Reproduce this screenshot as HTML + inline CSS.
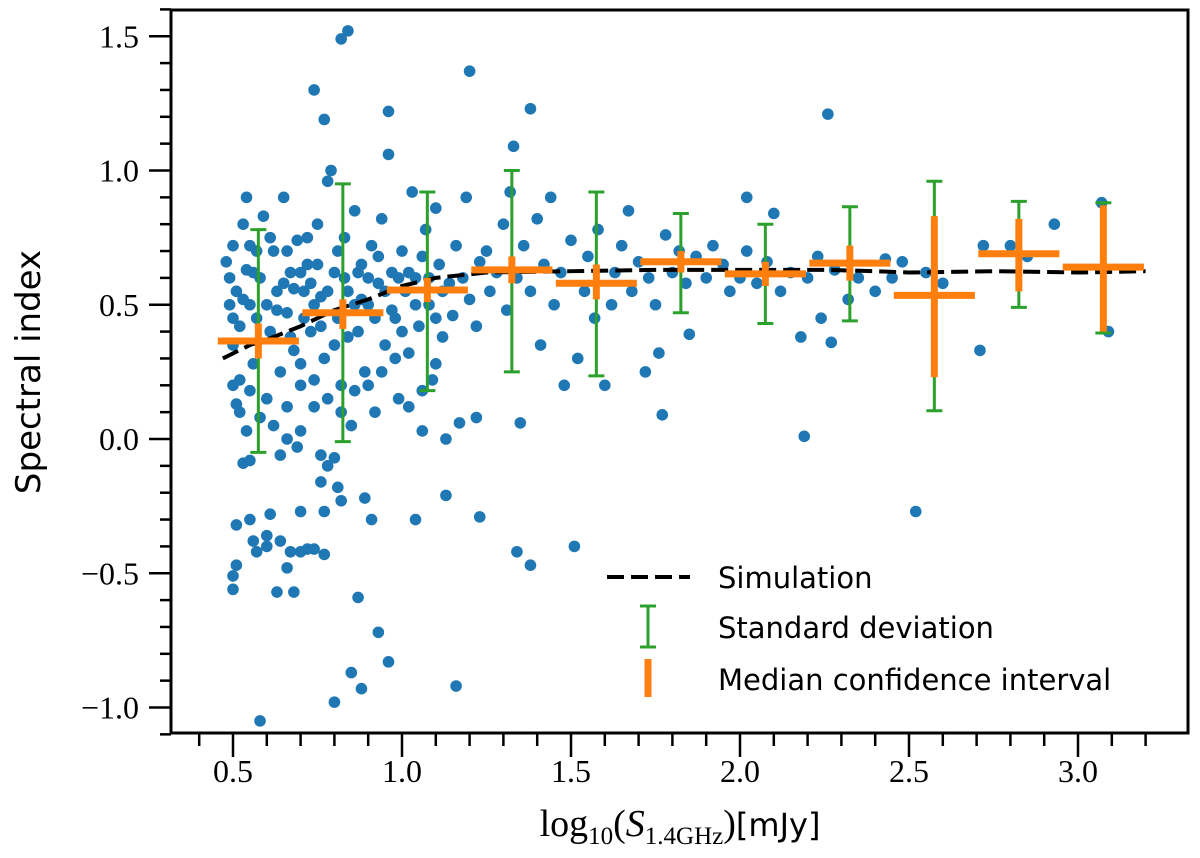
<!DOCTYPE html>
<html><head><meta charset="utf-8"><style>
html,body{margin:0;padding:0;background:#fff}
svg{display:block}
.tl{font-family:"Liberation Serif",serif;font-size:32px;fill:#000}
.lg{font-family:"DejaVu Sans","Liberation Sans",sans-serif;font-size:29px;fill:#000}
</style></head><body>
<svg id="chart" width="1200" height="858" viewBox="0 0 1200 858" xmlns="http://www.w3.org/2000/svg">
<g id="marks"></g>
<rect x="171" y="10" width="1017" height="723" fill="none" stroke="#000" stroke-width="3"/>
<g id="axes"></g>
<text class="lg" transform="translate(40,372) rotate(-90)" text-anchor="middle" style="font-size:34px">Spectral index</text>
<text x="680" y="836" text-anchor="middle" style="font-size:38px"><tspan font-family="Liberation Serif, serif">log</tspan><tspan font-family="Liberation Serif, serif" font-size="25" dy="8">10</tspan><tspan font-family="Liberation Serif, serif" dy="-8">(</tspan><tspan font-family="Liberation Serif, serif" font-style="italic">S</tspan><tspan font-family="Liberation Serif, serif" font-size="25" dy="8">1.4GHz</tspan><tspan font-family="Liberation Serif, serif" dy="-8">)</tspan><tspan font-family="DejaVu Sans, sans-serif" font-size="32">[mJy]</tspan></text>
<g>
<line x1="607" y1="577" x2="690" y2="577" stroke="#000" stroke-width="4" stroke-dasharray="17,7"/>
<text class="lg" x="718" y="588">Simulation</text>
<g stroke="#2ca02c" stroke-width="3"><line x1="648" y1="606" x2="648" y2="647"/><line x1="640" y1="606" x2="656" y2="606"/><line x1="640" y1="647" x2="656" y2="647"/></g>
<text class="lg" x="718" y="638">Standard deviation</text>
<line x1="648" y1="659" x2="648" y2="697" stroke="#ff7f0e" stroke-width="7"/>
<text class="lg" x="718" y="690">Median confidence interval</text>
</g>
</svg>
<script>
const pts = [[0.58,-1.05],[0.82,1.49],[0.84,1.52],[0.85,-0.87],[0.87,-0.59],[0.88,-0.93],[0.8,-0.98],[0.93,-0.72],[0.96,-0.83],[1.16,-0.92],[1.2,1.37],[2.26,1.21],[2.52,-0.27],[2.19,0.01],[2.71,0.33],[3.07,0.88],[3.09,0.40],[2.93,0.8],[2.24,0.45],[2.27,0.36],[1.38,1.23],[1.33,1.09],[0.74,1.3],[0.77,1.19],[0.96,1.22],[1.77,0.09],[1.51,-0.4],[1.34,-0.42],[1.38,-0.47],[1.22,0.08],[1.23,-0.29],[1.13,-0.21],[1.04,-0.3],[0.91,-0.3],[0.89,-0.22],[0.5,-0.51],[0.51,-0.47],[0.5,-0.56],[0.51,-0.32],[0.6,-0.4],[0.61,-0.28],[0.63,-0.57],[0.68,-0.57],[0.66,-0.48],[0.67,-0.42],[0.7,-0.42],[0.72,-0.41],[0.74,-0.41],[0.77,-0.43],[0.77,-0.27],[0.76,-0.16],[0.78,-0.1],[0.81,-0.18],[0.82,-0.23],[0.55,-0.3],[0.56,-0.38],[0.57,-0.42],[0.6,-0.36],[0.64,-0.38],[0.7,-0.27],[0.76,-0.06],[0.8,-0.07],[0.53,-0.09],[0.55,-0.08],[0.64,-0.06],[0.66,0.0],[0.69,-0.03],[0.7,0.03],[0.5,0.2],[0.52,0.1],[0.54,0.03],
[0.48,0.66],[0.49,0.6],[0.5,0.72],[0.51,0.55],[0.52,0.42],[0.5,0.35],[0.53,0.8],[0.54,0.63],[0.55,0.5],[0.56,0.28],[0.52,0.22],[0.51,0.13],[0.54,0.9],[0.55,0.72],[0.57,0.45],[0.58,0.6],[0.59,0.83],[0.6,0.15],[0.61,0.4],[0.62,0.7],[0.63,0.55],[0.64,0.25],[0.65,0.9],[0.66,0.47],[0.67,0.62],[0.68,0.33],[0.69,0.74],[0.7,0.2],[0.71,0.55],[0.72,0.65],[0.73,0.4],[0.74,0.12],[0.75,0.8],[0.76,0.53],[0.77,0.3],[0.78,0.96],[0.79,1.0],[0.8,0.62],[0.81,0.45],[0.82,0.2],[0.83,0.75],[0.84,0.55],[0.85,0.05],[0.86,0.85],[0.87,0.4],[0.88,0.65],[0.89,0.25],[0.9,0.5],[0.91,0.72],[0.92,0.1],[0.93,0.58],[0.94,0.82],[0.95,0.35],[0.96,1.06],[0.97,0.62],[0.98,0.45],[0.99,0.15],[1.0,0.7],[1.01,0.55],[1.02,0.32],[1.03,0.92],[1.04,0.6],[1.05,0.42],[1.06,0.03],[1.07,0.78],[1.08,0.5],[1.09,0.22],[1.1,0.86],[1.11,0.65],[1.12,0.38],[1.13,0.0],[1.14,0.58],[1.15,0.46],[1.16,0.72],[1.17,0.06],[1.18,0.6],[1.19,0.9],[1.2,0.52],[1.22,0.42],[1.23,0.66],[1.25,0.7],[1.26,0.55],[1.28,0.62],[1.3,0.8],[1.31,0.48],[1.32,0.92],[1.34,0.6],[1.35,0.06],[1.36,0.72],[1.38,0.55],[1.4,0.82],[1.41,0.35],[1.42,0.65],[1.44,0.9],[1.45,0.5],[1.47,0.62],[1.48,0.2],[1.5,0.74],[1.52,0.3],[1.54,0.55],[1.55,0.68],[1.57,0.45],[1.58,0.78],[1.6,0.2],[1.62,0.5],[1.63,0.62],[1.65,0.72],[1.67,0.85],[1.68,0.55],[1.7,0.66],[1.72,0.25],[1.73,0.6],[1.75,0.5],[1.76,0.32],[1.78,0.76],[1.8,0.62],[1.82,0.7],[1.84,0.58],[1.85,0.39],[1.87,0.68],[1.9,0.6],[1.92,0.72],[1.95,0.65],[1.97,0.55],[2.0,0.6],[2.02,0.7],[2.02,0.9],[2.05,0.58],[2.08,0.66],[2.1,0.84],[2.12,0.55],[2.15,0.62],[2.18,0.38],[2.2,0.6],[2.23,0.68],[2.28,0.63],[2.32,0.52],[2.35,0.6],[2.4,0.55],[2.43,0.67],[2.45,0.6],[2.48,0.66],[2.55,0.62],[2.6,0.58],[2.72,0.72],[2.8,0.72],[2.85,0.68],
[0.49,0.5],[0.5,0.45],[0.53,0.52],[0.56,0.62],[0.57,0.7],[0.6,0.5],[0.61,0.75],[0.63,0.48],[0.65,0.58],[0.66,0.7],[0.67,0.38],[0.68,0.56],[0.7,0.62],[0.71,0.45],[0.72,0.75],[0.73,0.58],[0.74,0.5],[0.75,0.65],[0.76,0.42],[0.78,0.55],[0.8,0.35],[0.81,0.7],[0.83,0.6],[0.84,0.38],[0.86,0.5],[0.87,0.62],[0.88,0.52],[0.9,0.6],[0.92,0.45],[0.93,0.68],[0.95,0.55],[0.97,0.48],[0.99,0.6],[1.0,0.4],[1.02,0.62],[1.04,0.5],[1.06,0.68],[1.08,0.6],[1.1,0.45],[1.12,0.55],[0.55,0.18],[0.58,0.08],[0.62,0.05],[0.66,0.12],[0.7,0.28],[0.74,0.22],[0.78,0.15],[0.82,0.1],[0.86,0.18],[0.9,0.2],[0.94,0.25],[0.98,0.3],[1.02,0.12],[1.06,0.18],[1.1,0.28]];
const binCenters = [0.575,0.825,1.075,1.325,1.575,1.825,2.075,2.325,2.575,2.825,3.075];
const medians = [0.365,0.47,0.555,0.63,0.58,0.66,0.615,0.655,0.535,0.69,0.64];
const stdLow = [-0.05,-0.01,0.18,0.25,0.235,0.47,0.43,0.44,0.105,0.49,0.395];
const stdHigh = [0.78,0.95,0.92,1.0,0.92,0.84,0.80,0.865,0.96,0.885,0.88];
const ciLow = [0.30,0.41,0.51,0.58,0.52,0.62,0.57,0.59,0.23,0.55,0.40];
const ciHigh = [0.43,0.52,0.60,0.68,0.65,0.70,0.66,0.72,0.83,0.82,0.87];
const simX = [0.47,0.55,0.6,0.7,0.8,0.9,1.0,1.1,1.25,1.5,1.75,2.0,2.25,2.4,2.5,2.75,3.0,3.2];
const simY = [0.30,0.35,0.37,0.42,0.48,0.52,0.57,0.60,0.62,0.625,0.63,0.63,0.63,0.625,0.62,0.625,0.62,0.625];
const xTicks = [0.5,1.0,1.5,2.0,2.5,3.0];
const yTicks = [-1.0,-0.5,0.0,0.5,1.0,1.5];

const X = v => 233 + (v-0.5)*338;
const Y = v => 439 - v*268.5;
const NS = 'http://www.w3.org/2000/svg';
const mk = (tag, attrs, parent) => { const e = document.createElementNS(NS, tag); for (const k in attrs) e.setAttribute(k, attrs[k]); parent.appendChild(e); return e; };
const marks = document.getElementById('marks');
const axes = document.getElementById('axes');

pts.forEach(p => {
  const c = mk('circle', {cx: X(p[0]), cy: Y(p[1]), r: 5.8, fill: '#1f77b4'}, marks);
  
  
});
const sim = mk('polyline', {points: simX.map((x,i)=>X(x)+','+Y(simY[i])).join(' '), fill:'none', stroke:'#000', 'stroke-width':4, 'stroke-dasharray':'17,7'}, marks);


binCenters.forEach((b,i) => {
  const g = mk('g', {stroke:'#2ca02c','stroke-width':3}, marks);
  
  
  mk('line', {x1:X(b),x2:X(b),y1:Y(stdLow[i]),y2:Y(stdHigh[i])}, g);
  mk('line', {x1:X(b)-8,x2:X(b)+8,y1:Y(stdLow[i]),y2:Y(stdLow[i])}, g);
  mk('line', {x1:X(b)-8,x2:X(b)+8,y1:Y(stdHigh[i]),y2:Y(stdHigh[i])}, g);
});
binCenters.forEach((b,i) => {
  const g = mk('g', {stroke:'#ff7f0e','stroke-width':7}, marks);
  
  
  mk('line', {x1:X(b-0.12),x2:X(b+0.12),y1:Y(medians[i]),y2:Y(medians[i])}, g);
  mk('line', {x1:X(b),x2:X(b),y1:Y(ciLow[i]),y2:Y(ciHigh[i])}, g);
});
for (let k=4;k<=32;k++){
  const v=k/10, major = xTicks.some(t=>Math.abs(t-v)<1e-6);
  const t = mk('line', {x1:X(v),x2:X(v),y1:733,y2:major?757:746,stroke:'#000','stroke-width':2.5}, axes);
  
  
}
xTicks.forEach(v => {
  const t = mk('text', {x:X(v), y:782, 'text-anchor':'middle', class:'tl'}, axes);
  t.textContent = v.toFixed(1);
  
  
});
for (let k=-11;k<=16;k++){
  const v=k/10, major = yTicks.some(t=>Math.abs(t-v)<1e-6);
  const t = mk('line', {x1:major?149:160,x2:171,y1:Y(v),y2:Y(v),stroke:'#000','stroke-width':2.5}, axes);
  
  
}
yTicks.forEach(v => {
  const t = mk('text', {x:139, y:Y(v)+11, 'text-anchor':'end', class:'tl'}, axes);
  t.textContent = (v<0?'\u2212':'') + Math.abs(v).toFixed(1);
  
  
});
</script>
</body></html>
